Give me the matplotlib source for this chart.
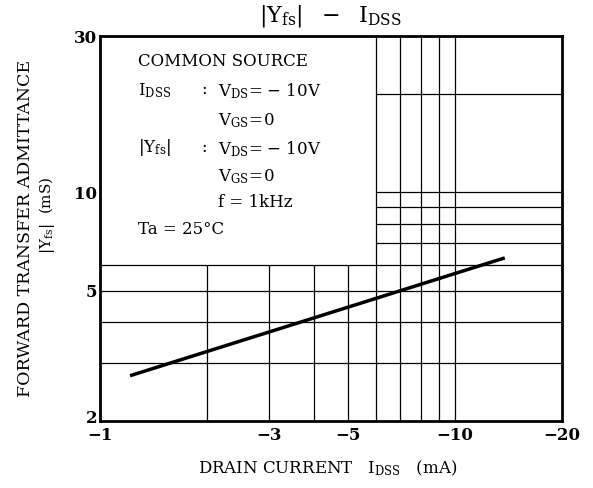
import matplotlib
matplotlib.use("Agg")
import matplotlib.pyplot as plt
import matplotlib.transforms as mtransforms

plt.rcParams['font.family'] = ['DejaVu Serif']
plt.rcParams['mathtext.fontset'] = 'dejavuserif'

# |Idss| (mA) and |Yfs| (mS) along the curve
idss = [1.215, 13.8]
yfs = [2.75, 6.3]

xticks = [1, 3, 5, 10, 20]
xticklabels = ['\u22121', '\u22123', '\u22125', '\u221210', '\u221220']
yticks = [2, 5, 10, 30]
yticklabels = ['2', '5', '10', '30']

# grid lines: short ones stop at the condition box
vgrid_short = [2, 3, 4, 5]
vgrid_full = [6, 7, 8, 9, 10]
hgrid_full = [3, 4, 5, 6]
hgrid_short = [7, 8, 9, 10, 20]

fig = plt.figure(figsize=(5.93, 4.88), dpi=100)
ax = fig.add_axes([0.1686, 0.1373, 0.7791, 0.7889])
ax.set_xscale('log')
ax.set_yscale('log')
ax.set_xlim(1, 20)
ax.set_ylim(2, 30)

ax.vlines(vgrid_short, 2, 6, color='black', lw=0.9)
ax.vlines(vgrid_full, 2, 30, color='black', lw=0.9)
ax.hlines(hgrid_full, 1, 20, color='black', lw=0.9)
ax.hlines(hgrid_short, 6, 20, color='black', lw=0.9)

ax.plot(idss, yfs, color='black', lw=2.5, solid_capstyle='butt')

ax.set_xticks(xticks)
ax.set_xticklabels(xticklabels, fontsize=12, fontweight='bold')
ax.set_yticks(yticks)
ax.set_yticklabels(yticklabels, fontsize=12, fontweight='bold')
ax.minorticks_off()
ax.tick_params(length=0, pad=4)
ax.tick_params(axis='y', pad=2)
for s in ax.spines.values():
    s.set_linewidth(2)
# lift the "2" a little so it clears the "-1"
lab = ax.get_yticklabels()[0]
lab.set_transform(lab.get_transform() +
                  mtransforms.ScaledTranslation(0, 3 / 72, fig.dpi_scale_trans))

tx = lambda px: px / 593
ty = lambda py: 1 - py / 488

fig.text(tx(330), ty(16), r'$|\mathrm{Y_{fs}}|\ \ -\ \ \mathrm{I_{DSS}}$', ha='center',
         va='center', fontsize=16)
fig.text(tx(198), ty(468), r'DRAIN CURRENT   $\mathrm{I_{DSS}}$   (mA)', ha='left',
         va='center', fontsize=12)
fig.text(tx(26), ty(228), 'FORWARD TRANSFER ADMITTANCE', rotation=90, ha='center',
         va='center', fontsize=12.5)
fig.text(tx(47), ty(215), r'$|\mathrm{Y_{fs}}|$  (mS)', rotation=90, ha='center',
         va='center', fontsize=11)

fs = 12
fig.text(tx(138), ty(62), 'COMMON SOURCE', fontsize=fs, va='center')
fig.text(tx(138), ty(91), r'$\mathrm{I_{DSS}}$', fontsize=fs, va='center')
fig.text(tx(201), ty(89), ':', fontsize=fs, va='center')
fig.text(tx(218), ty(91), r'$\mathrm{V_{DS}\!=\!-\,10V}$', fontsize=fs, va='center')
fig.text(tx(218), ty(121), r'$\mathrm{V_{GS}\!=\!0}$', fontsize=fs, va='center')
fig.text(tx(138), ty(148), r'$|\mathrm{Y_{fs}}|$', fontsize=fs, va='center')
fig.text(tx(201), ty(147), ':', fontsize=fs, va='center')
fig.text(tx(218), ty(149), r'$\mathrm{V_{DS}\!=\!-\,10V}$', fontsize=fs, va='center')
fig.text(tx(218), ty(177), r'$\mathrm{V_{GS}\!=\!0}$', fontsize=fs, va='center')
fig.text(tx(218), ty(203), 'f = 1kHz', fontsize=fs, va='center')
fig.text(tx(138), ty(230), 'Ta = 25°C', fontsize=fs, va='center')

fig.savefig('out.png', dpi=100)
